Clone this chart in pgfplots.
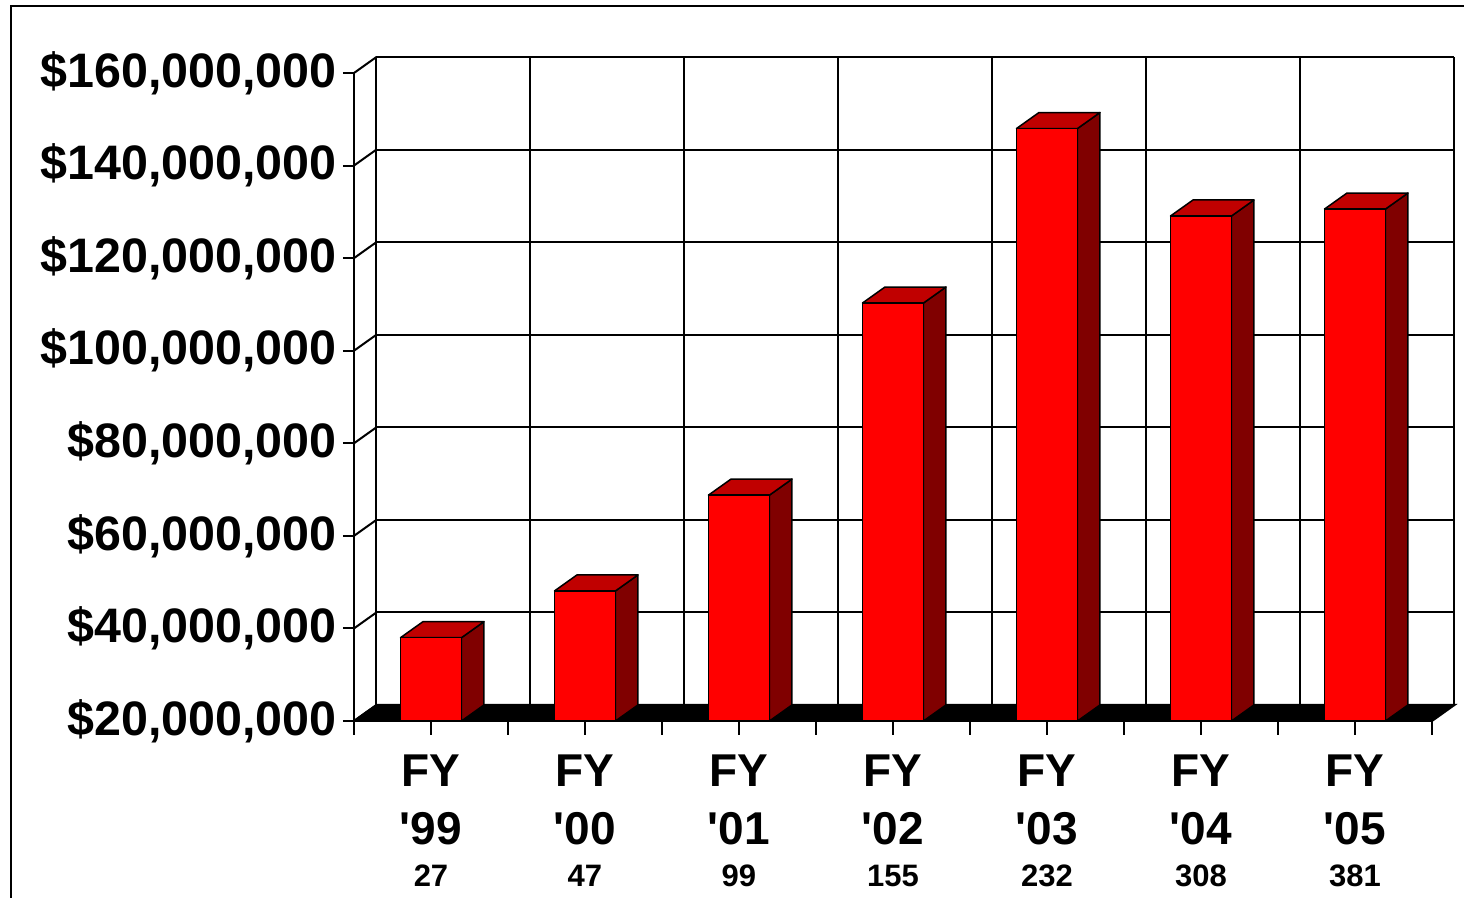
\documentclass[border=0pt]{standalone}
\usepackage{fontspec}
\setmainfont{Liberation Sans}
\usepackage{pgfplots}
\pgfplotsset{compat=1.18}
\usepackage{pgfplotstable}

\definecolor{barfront}{HTML}{FF0000}
\definecolor{bartop}{HTML}{C00000}
\definecolor{barside}{HTML}{800000}

% funding per fiscal year, in millions of dollars
\pgfplotstableread{
x   v
0   38.0
1   48.1
2   68.8
3   110.3
4   148.0
5   129.1
6   130.6
}\funding

\def\dx{0.146}   % depth offset, x units
\def\dy{3.46}    % depth offset, y units
\def\hw{0.198}   % half bar width

\begin{document}
\begin{tikzpicture}
\useasboundingbox (-177pt,-88.5pt) rectangle (555pt,360.5pt);
\draw[line width=1pt] (-171.5pt,-100pt) -- (-171.5pt,357.5pt) -- (600pt,357.5pt);
\begin{axis}[
  at={(0,0)}, anchor=south west,
  scale only axis, width=539pt, height=324pt,
  xmin=0, xmax=7, ymin=20, ymax=160,
  clip=false,
  axis x line*=bottom, axis y line*=left,
  axis line style={line width=1pt, -},
  tick align=outside,
  major tick length=5.5pt,
  tick style={black, line width=1pt},
  xtick={0,...,7}, xticklabels={},
  xtick style={/pgfplots/major tick length=7pt},
  ytick={20,40,...,160},
  yticklabels={{\$20,000,000},{\$40,000,000},{\$60,000,000},{\$80,000,000},
    {\$100,000,000},{\$120,000,000},{\$140,000,000},{\$160,000,000}},
  yticklabel style={font=\fontsize{24.2}{29}\selectfont\bfseries, inner sep=0pt, xshift=-3pt},
  extra x ticks={0.5,1.5,...,6.5},
  extra x tick labels={
    {FY\\\textquotesingle99\\[-8pt]{\fontsize{15.5}{15.5}\selectfont 27}},
    {FY\\\textquotesingle00\\[-8pt]{\fontsize{15.5}{15.5}\selectfont 47}},
    {FY\\\textquotesingle01\\[-8pt]{\fontsize{15.5}{15.5}\selectfont 99}},
    {FY\\\textquotesingle02\\[-8pt]{\fontsize{15.5}{15.5}\selectfont 155}},
    {FY\\\textquotesingle03\\[-8pt]{\fontsize{15.5}{15.5}\selectfont 232}},
    {FY\\\textquotesingle04\\[-8pt]{\fontsize{15.5}{15.5}\selectfont 308}},
    {FY\\\textquotesingle05\\[-8pt]{\fontsize{15.5}{15.5}\selectfont 381}}},
  extra x tick style={major tick length=0pt,
    xticklabel style={align=center, font=\fontsize{23}{29}\selectfont\bfseries, inner sep=0pt, yshift=-16.5pt}},
  wall/.style={black, line width=1pt},
]
% back wall and left wall grid
\pgfplotsinvokeforeach{20,40,...,160}{
  \pgfmathsetmacro\yb{#1+\dy}
  \pgfmathsetmacro\xe{7+\dx}
  \edef\temp{\noexpand\addplot[wall] coordinates {(\dx,\yb) (\xe,\yb)};
    \noexpand\addplot[wall] coordinates {(0,#1) (\dx,\yb)};}
  \temp
}
\pgfplotsinvokeforeach{0,...,7}{
  \pgfmathsetmacro\xb{#1+\dx}
  \pgfmathsetmacro\ya{20+\dy}
  \pgfmathsetmacro\yb{160+\dy}
  \edef\temp{\noexpand\addplot[wall] coordinates {(\xb,\ya) (\xb,\yb)};}
  \temp
}
% floor
\pgfmathsetmacro\xe{7+\dx}
\pgfmathsetmacro\ya{20+\dy}
\edef\temp{\noexpand\addplot[fill=black, draw=black, line width=1pt]
  coordinates {(0,20) (7,20) (\xe,\ya) (\dx,\ya)} -- cycle;}
\temp
% bars: side, top, front
\pgfplotsinvokeforeach{0,...,6}{
  \pgfplotstablegetelem{#1}{v}\of\funding
  \let\val\pgfplotsretval
  \pgfmathsetmacro\xl{#1+0.5-\hw}
  \pgfmathsetmacro\xr{#1+0.5+\hw}
  \pgfmathsetmacro\xlb{\xl+\dx}
  \pgfmathsetmacro\xrb{\xr+\dx}
  \pgfmathsetmacro\vt{\val+\dy}
  \pgfmathsetmacro\fb{20+\dy}
  \edef\temp{%
    \noexpand\addplot[fill=barside, draw=black, line width=0.75pt, line join=round]
      coordinates {(\xr,20) (\xrb,\fb) (\xrb,\vt) (\xr,\val)} -- cycle;
    \noexpand\addplot[fill=bartop, draw=black, line width=0.75pt, line join=round]
      coordinates {(\xl,\val) (\xr,\val) (\xrb,\vt) (\xlb,\vt)} -- cycle;
    \noexpand\addplot[fill=barfront, draw=black, line width=0.75pt, line join=round]
      coordinates {(\xl,20) (\xr,20) (\xr,\val) (\xl,\val)} -- cycle;}
  \temp
}
\end{axis}
\end{tikzpicture}
\end{document}
